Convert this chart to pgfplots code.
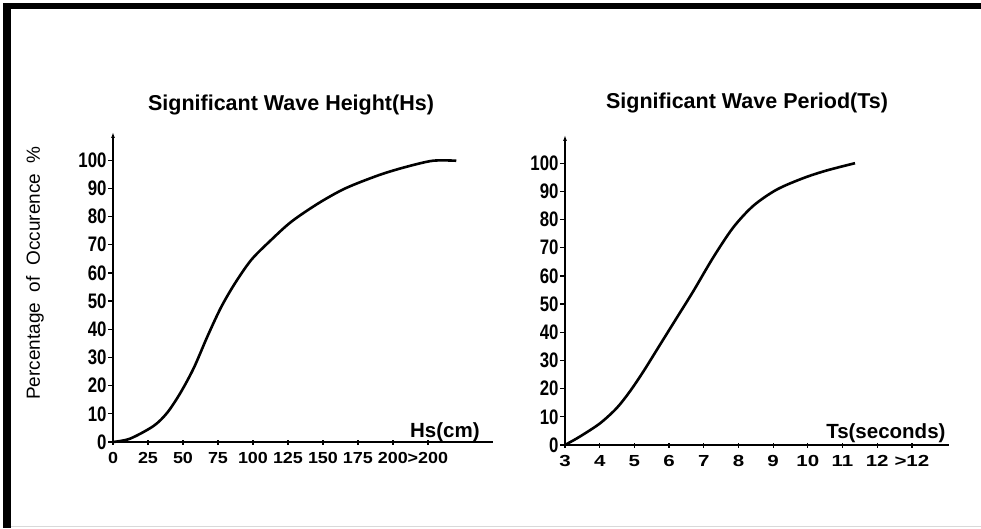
\documentclass[border=0pt]{standalone}
\usepackage{fontspec}
\setmainfont{Liberation Sans}
\newfontfamily\narrowfont[FakeStretch=0.8]{Liberation Sans}
\newfontfamily\widefont[FakeStretch=1.12]{Liberation Sans}
\newfontfamily\widerfont[FakeStretch=1.28]{Liberation Sans}
\usepackage{pgfplots}
\pgfplotsset{compat=1.18}
\usetikzlibrary{arrows.meta}

% shared look of both panels
\pgfplotsset{wave/.style={
    scale only axis, axis lines=left, enlargelimits=false, clip=false,
    height=310pt, ymin=0, ymax=110,
    ytick={0,10,...,100},
    yticklabels={0,10,20,30,40,50,60,70,80,90,100},
    axis line style={line width=1.5pt},
    x axis line style={-},
    y axis line style={-{Latex[length=6pt,width=4pt]}},
    tick style={line width=1.2pt, black},
    major tick length=5pt,
    ytick align=outside, xtick align=center,
    yticklabel style={font=\narrowfont\bfseries\fontsize{21}{21}\selectfont, xshift=2pt},
    xticklabel style={font=\widefont\bfseries\fontsize{16}{16}\selectfont, yshift=-4pt},
    xlabel style={font=\bfseries\fontsize{20.5}{20.5}\selectfont, anchor=base east},
}}

\begin{document}
\begin{tikzpicture}
\path[use as bounding box] (0pt,0pt) rectangle (981pt,528pt);
\fill[black] (3pt,519pt) rectangle (981pt,525pt);
\fill[black] (3pt,0pt) rectangle (11pt,525pt);
\draw[black!15] (11pt,1.5pt) -- (981pt,1.5pt);

\node[font=\bfseries\fontsize{21.5}{21.5}\selectfont] at (291pt,423pt) {Significant Wave Height(Hs)};
\node[font=\bfseries\fontsize{21.5}{21.5}\selectfont] at (747pt,425pt) {Significant Wave Period(Ts)};
\node[font=\fontsize{19}{19}\selectfont, rotate=90] at (35pt,255pt) {Percentage~~of~~Occurence~~\%};

\begin{axis}[wave, at={(113pt,86pt)}, anchor=south west,
    width=380pt, xmin=0, xmax=10.86,
    xtick={0,...,9},
    xticklabels={0,25,50,75,100,125,150,175,200,>200},
    xlabel={Hs(cm)},
    xlabel style={at={(rel axis cs:0.974,0)}, yshift=5pt}]
\addplot[black, line width=2.6pt, smooth, tension=0.5] coordinates {
(0,0) (0.49,1.2) (1.16,5.7) (1.55,10.4) (1.93,17.5) (2.31,26.3) (2.70,37.5)
(3.08,47.6) (3.47,56) (3.95,64.6) (4.52,71.7) (5.10,78.2) (5.87,84.7)
(6.64,90) (7.60,94.7) (8.37,97.6) (9.14,99.8) (9.81,99.8)};
\end{axis}

\begin{axis}[wave, at={(565pt,83pt)}, anchor=south west,
    width=384pt, xmin=3, xmax=14.07,
    xtick={3,...,13},
    xticklabels={3,4,5,6,7,8,9,10,11,12,>12},
    xticklabel style={font=\widerfont\bfseries\fontsize{16}{16}\selectfont},
    xlabel={Ts(seconds)},
    xlabel style={at={(rel axis cs:1,0)}, yshift=7pt}]
\addplot[black, line width=2.6pt, smooth, tension=0.5] coordinates {
(3,0) (3.43,3.0) (4.01,7.7) (4.49,13.1) (4.87,19.0) (5.26,26.1) (5.74,35.6)
(6.22,45.1) (6.70,54.6) (7.27,66.5) (7.85,77.2) (8.43,84.9) (9.10,90.6)
(9.87,94.7) (10.54,97.4) (11.36,100)};
\end{axis}
\end{tikzpicture}
\end{document}
